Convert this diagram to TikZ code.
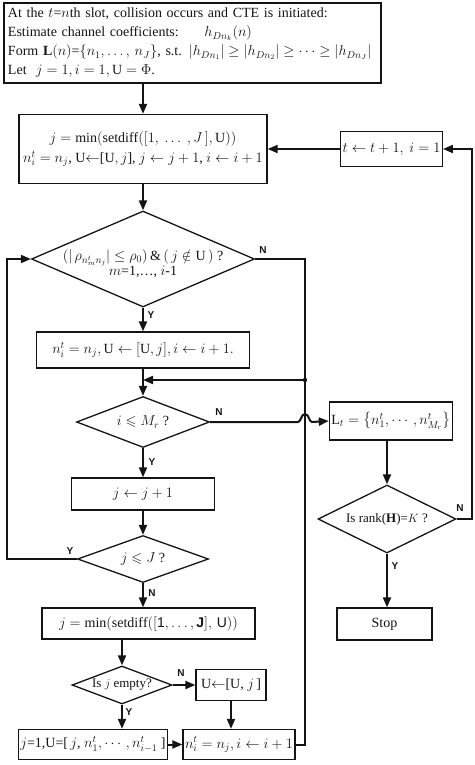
\documentclass[tikz,border=0pt]{standalone}
\usepackage{amsmath}
\usepackage{amssymb}
\usepackage{fontspec}
\setmainfont{Liberation Serif}
\setsansfont{Liberation Sans}
\usepackage{tikz}
\usetikzlibrary{positioning, shapes.geometric, calc, arrows.meta}
\definecolor{fcInk}{RGB}{20, 20, 20}
\tikzset{
    base/.style={
        font=\fontsize{14}{19}\selectfont,
        align=center,
        text=fcInk
    },
    block/.style={
        base,
        rectangle,
        draw=fcInk,
        line width=1.3pt,
        fill=white,
        inner sep=2pt
    },
    decision/.style={
        diamond,
        draw=fcInk,
        line width=1.3pt,
        fill=white,
        inner sep=0pt
    },
    flow/.style={
        -{Triangle[length=10pt, width=8pt]},
        line width=2pt,
        color=fcInk
    },
    wire/.style={
        line width=2pt,
        color=fcInk
    },
    yn/.style={
        font=\fontsize{10}{12}\selectfont\sffamily\bfseries,
        text=fcInk,
        inner sep=1pt
    }
}

\begin{document}
\begin{tikzpicture}[x=1pt, y=-1pt]
  \useasboundingbox (0,0) rectangle (474,765);

  % Blocks
  \node[block, align=left, text width=369pt, minimum height=80pt, inner sep=4pt] (init) at (192.5,43) {%
    At the $t$=$n$th slot, collision occurs and CTE is initiated:\\
    Estimate channel coefficients: \quad\ $h_{Dn_k}(n)$\\
    Form $\mathbf{L}(n)$=$\{n_1,\ldots,\, n_J\}$, s.t. $\left|h_{Dn_1}\right|\ge\left|h_{Dn_2}\right|\ge\cdots\ge\left|h_{Dn_J}\right|$\\
    Let \ $j=1, i=1, \mathrm{U}=\Phi$.};
  \node[block, minimum width=248pt, minimum height=69pt] (sel) at (143,149) {%
    $j=\min(\mathrm{setdiff}([1,\ \ldots\ ,J\,],\mathrm{U}))$\\[1pt]
    $n_i^t=n_j$, U$\leftarrow$[U$,j$], $j\leftarrow j+1$, $i\leftarrow i+1$};
  \node[block, minimum width=99pt, minimum height=35pt] (tnext) at (391.5,149) {$t\leftarrow t+1,\ i=1$};
  \node[block, minimum width=213pt, minimum height=36pt] (assign) at (143,350) {$n_i^t=n_j,\mathrm{U}\leftarrow[\mathrm{U},j],i\leftarrow i+1.$};
  \node[block, minimum width=110pt, minimum height=38pt] (lset) at (391,421) {$\mathrm{L}_t=\left\{n_1^t,\cdots,n_{M_r}^t\right\}$};
  \node[block, minimum width=143pt, minimum height=32pt] (jnext) at (143,494) {$j\leftarrow j+1$};
  \node[block, minimum width=213pt, minimum height=31pt] (sel2) at (148.5,623.5) {$j=\min(\mathrm{setdiff}([\textsf{1},\ldots,\textsf{\textbf{J}}],\,\textsf{U}))$};
  \node[block, minimum width=70pt, minimum height=31pt] (uadd) at (231,685) {U$\leftarrow$[U, $j$\,]};
  \node[block, minimum width=142pt, minimum height=30pt] (reset) at (93,744.5) {$j$=1,U=[\,$j$, $n_1^t,\cdots,n_{i-1}^t$\ ]};
  \node[block, minimum width=98pt, minimum height=30pt] (nfin) at (239,744.5) {$n_i^t=n_j,i\leftarrow i+1$};
  \node[block, minimum width=95pt, minimum height=32pt] (stop) at (384.5,624) {Stop};

  % Decisions
  \node[decision, minimum width=223pt, minimum height=96pt,
        label={[base, yshift=-5pt]center:{$(|\,\rho_{n_m^t n_j}|\le\rho_0)\,\&\,(\,j\notin\mathrm{U}\,)$\ ?\\[-4pt]$m$=1,\ldots, $i$-1}}] (cond) at (143,259) {};
  \node[decision, minimum width=133pt, minimum height=51pt,
        label={[base]center:{$i\leqslant M_r$ ?}}] (cmpM) at (143,422) {};
  \node[decision, minimum width=131pt, minimum height=47pt,
        label={[base]center:{$j\leqslant J$ ?}}] (cmpJ) at (143,559) {};
  \node[decision, minimum width=100pt, minimum height=38pt,
        label={[base, font=\fontsize{13}{16}\selectfont]center:{Is $j$ empty?}}] (empty) at (122,685) {};
  \node[decision, minimum width=138pt, minimum height=68pt,
        label={[base, font=\fontsize{13}{16}\selectfont]center:{Is rank($\mathbf{H}$)=$K$ ?}}] (rank) at (387,519) {};

  % Junctions
  \coordinate (merge) at (305,380);
  \coordinate (loopL) at (7,559);
  \coordinate (loopR) at (472,519);

  % Main column
  \draw[flow] (init.south -| sel.north) -- (sel.north);
  \draw[flow] (sel.south) -- (cond.north);
  \draw[flow] (cond.south) -- (assign.north);
  \draw[flow] (assign.south) -- (cmpM.north);
  \draw[flow] (cmpM.south) -- (jnext.north);
  \draw[flow] (jnext.south) -- (cmpJ.north);
  \draw[flow] (cmpJ.south) -- (cmpJ.south |- sel2.north);
  \draw[flow] (empty.north |- sel2.south) -- (empty.north);
  \draw[flow] (empty.south) -- (empty.south |- reset.north);
  \draw[flow] (empty.east) -- (uadd.west);
  \draw[flow] (uadd.south) -- (uadd.south |- nfin.north);
  \draw[flow] (reset.east) -- (nfin.west);

  % Merge line
  \draw[wire] (cond.east) -| (merge);
  \draw[wire] (nfin.east) -| (merge);
  \fill[fcInk] (merge) circle (2.2pt);
  \draw[flow] (merge) -- (merge -| assign.south);

  % Loops
  \draw[flow] (cmpJ.west) -- (loopL) |- (cond.west);
  \draw[flow] (cmpM.east) -- (298,422) .. controls (301,422) and (301,414) .. (305,414)
    .. controls (309,414) and (309,422) .. (312,422) -- (lset.west);
  \draw[flow] (lset.south -| rank.north) -- (rank.north);
  \draw[flow] (rank.south) -- (rank.south |- stop.north);
  \draw[flow] (rank.east) -- (loopR) |- (tnext.east);
  \draw[flow] (tnext.west) -- (sel.east);

  % Y / N labels
  \node[yn] (nA) at (263,250) {N};
  \node[yn] (yA) at (151,315) {Y};
  \node[yn] (nB) at (219,412) {N};
  \node[yn] (yB) at (152,462) {Y};
  \node[yn] (yC) at (70,551) {Y};
  \node[yn] (nC) at (152,593) {N};
  \node[yn] (nD) at (181,673) {N};
  \node[yn] (yD) at (129,712) {Y};
  \node[yn] (nE) at (460,508) {N};
  \node[yn] (yE) at (395,566) {Y};
\end{tikzpicture}
\end{document}
